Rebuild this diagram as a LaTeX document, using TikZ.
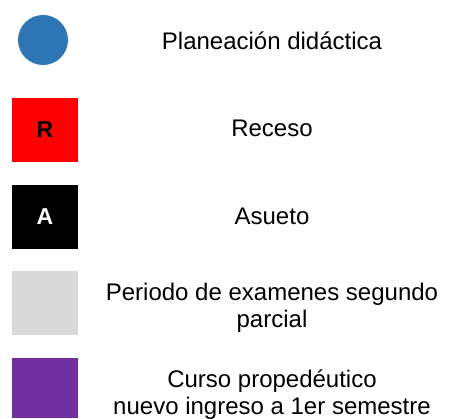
\documentclass[tikz,border=0pt]{standalone}
\usepackage{fontspec}
\setmainfont{Liberation Sans}
\usetikzlibrary{positioning}

\definecolor{planblue}{HTML}{2E75B6}
\definecolor{examgray}{HTML}{D9D9D9}
\definecolor{propviolet}{HTML}{7030A0}

\begin{document}
\begin{tikzpicture}[
  x=1pt, y=1pt,
  keybox/.style={minimum width=66pt, minimum height=64pt, inner sep=0pt, outer sep=0pt, font=\fontsize{23}{26}\selectfont\bfseries},
  desc/.style={align=center, anchor=base, inner sep=0pt, font=\fontsize{24}{27}\selectfont}
]
\useasboundingbox (0,0) rectangle (459,-419);

\node[circle, fill=planblue, minimum size=50pt, inner sep=0pt] (plan) at (43,-40) {};
\node[keybox, fill=red] (receso) at (45,-130) {R};
\node[keybox, fill=black, text=white, below=23pt of receso] (asueto) {A};
\node[keybox, fill=examgray, below=22pt of asueto] (examen) {};
\node[keybox, fill=propviolet, minimum height=60pt, below=23pt of examen] (prope) {};

% two-line labels sit on the baseline of their last line
\node[desc] (lplan) at (272,-50) {Planeación didáctica};
\node[desc] (lreceso) at (272,-137) {Receso};
\node[desc] (lasueto) at (272,-225) {Asueto};
\node[desc] (lexamen) at (272,-328) {Periodo de examenes segundo\\parcial};
\node[desc] (lprope) at (272,-415) {Curso propedéutico\\nuevo ingreso a 1er semestre};

\end{tikzpicture}
\end{document}
